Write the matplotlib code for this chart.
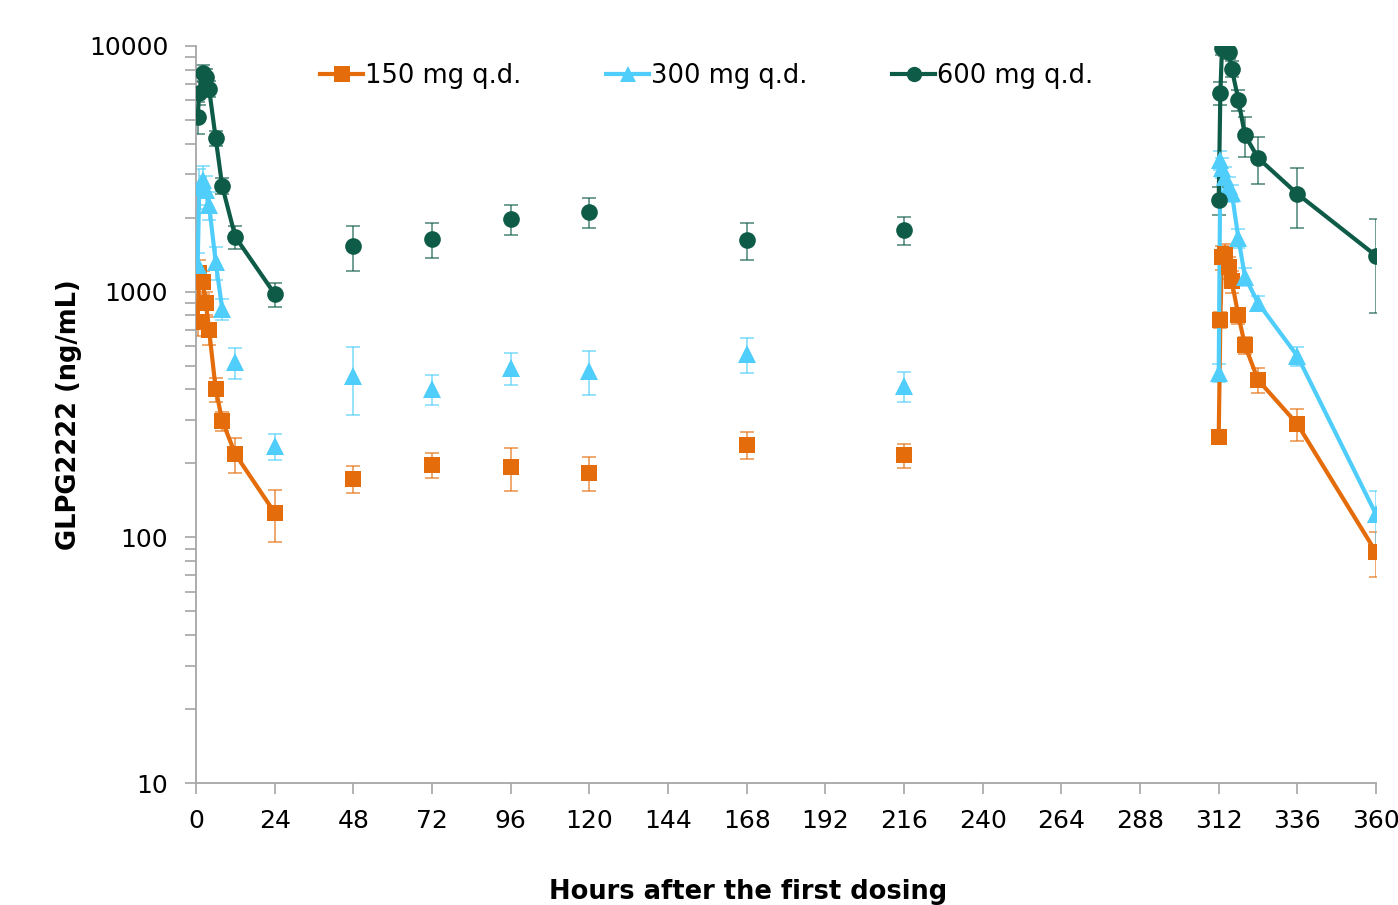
import matplotlib
matplotlib.use("Agg")
import matplotlib.pyplot as plt
from matplotlib.ticker import FixedLocator, FixedFormatter, LogLocator, NullFormatter

# ---- data ----
t_day1 = [0.5, 1, 2, 3, 4, 6, 8, 12, 24]
t_trough = [48, 72, 96, 120, 168, 216]
t_last = [312, 312.5, 313, 314, 315, 316, 318, 320, 324, 336, 360]

c150_day1 = [753, 1190, 1095, 900, 698, 402, 298, 218, 126]
sd150_day1 = [90, 150, 120, 100, 90, 45, 27, 35, 30]
c150_trough = [173, 197, 193, 183, 238, 216]
sd150_trough = [22, 23, 38, 29, 30, 24]
c150_last = [257, 770, 1380, 1420, 1260, 1100, 800, 605, 437, 289, 87]
sd150_last = [15, 60, 150, 150, 130, 110, 60, 50, 50, 43, 18]

c300_day1 = [1284, 2670, 2850, 2600, 2250, 1320, 850, 517, 235]
sd300_day1 = [150, 500, 400, 350, 300, 200, 80, 75, 28]
c300_trough = [454, 402, 489, 476, 558, 413]
sd300_trough = [140, 56, 74, 98, 90, 58]
c300_last = [467, 3440, 3190, 2930, 2690, 2520, 1650, 1150, 900, 547, 124]
sd300_last = [40, 300, 300, 280, 250, 200, 150, 100, 60, 50, 31]

c600_day1 = [5140, 6440, 7770, 7480, 6680, 4220, 2690, 1670, 979]
sd600_day1 = [760, 700, 600, 600, 500, 300, 200, 180, 110]
c600_trough = [1535, 1639, 1977, 2110, 1624, 1782]
sd600_trough = [316, 265, 277, 296, 280, 232]
c600_last = [2360, 6440, 9800, 9720, 9450, 8060, 6030, 4340, 3500, 2500, 1400]
sd600_last = [300, 700, 600, 600, 600, 600, 600, 800, 760, 690, 580]

# number of day-1 points joined by the line (300 mg line stops at 8 h)
n_connected_day1 = [9, 7, 9]

labels = ["150 mg q.d.", "300 mg q.d.", "600 mg q.d."]
colors = ["#E46C0A", "#4FCDFB", "#0E5B47"]
markers = ["s", "^", "o"]
msizes = [12, 13, 12]

x_ticks = list(range(0, 361, 24))
y_ticks = [10, 100, 1000, 10000]
y_ticklabels = ["10", "100", "1000", "10000"]

series = [
    (c150_day1, sd150_day1, c150_trough, sd150_trough, c150_last, sd150_last),
    (c300_day1, sd300_day1, c300_trough, sd300_trough, c300_last, sd300_last),
    (c600_day1, sd600_day1, c600_trough, sd600_trough, c600_last, sd600_last),
]

plt.rcParams['font.family'] = ['DejaVu Sans']
fig = plt.figure(figsize=(13.98, 9.05), dpi=100)
ax = fig.add_axes([0.1402, 0.1348, 0.8441, 0.8144])

handles = []
for (d1, s1, tr, st, la, sl), lab, col, mk, ms, nc in zip(series, labels, colors, markers, msizes, n_connected_day1):
    for tt, yy, ss in [(t_day1, d1, s1), (t_trough, tr, st), (t_last, la, sl)]:
        ax.errorbar(tt, yy, yerr=ss, fmt='none', ecolor=col, elinewidth=1.1,
                    capsize=5, capthick=1.1, alpha=0.75, zorder=2)
        ax.plot(tt, yy, linestyle='none', color=col, marker=mk,
                markersize=ms, markeredgewidth=0, zorder=4)
    ax.plot(t_day1[:nc], d1[:nc], '-', color=col, lw=3, zorder=3)
    ax.plot(t_last, la, '-', color=col, lw=3, zorder=3)
    handles.append(ax.plot([], [], linestyle='-', color=col, lw=3, marker=mk,
                           markersize=ms - 1, markeredgewidth=0)[0])

ax.set_yscale('log')
ax.set_xlim(0, 360)
ax.set_ylim(10, 10000)
ax.xaxis.set_major_locator(FixedLocator(x_ticks))
ax.yaxis.set_major_locator(FixedLocator(y_ticks))
ax.yaxis.set_major_formatter(FixedFormatter(y_ticklabels))
ax.yaxis.set_minor_locator(LogLocator(base=10, subs=range(2, 10)))
ax.yaxis.set_minor_formatter(NullFormatter())

for s in ['top', 'right']:
    ax.spines[s].set_visible(False)
for s in ['left', 'bottom']:
    ax.spines[s].set_color('#A6A6A6')
    ax.spines[s].set_linewidth(1.3)
ax.tick_params(axis='both', which='both', color='#A6A6A6', width=1.2, length=8,
               labelsize=18, direction='out')
ax.tick_params(axis='x', pad=11)
ax.tick_params(axis='y', pad=12)

ax.set_ylabel("GLPG2222 (ng/mL)", fontsize=18.5, fontweight='bold')
ax.yaxis.set_label_coords(-0.097, 0.5)
ax.set_xlabel("Hours after the first dosing", fontsize=18.5, fontweight='bold')
ax.xaxis.set_label_coords(0.468, -0.130)

ax.legend(handles, labels, loc='center', bbox_to_anchor=(0.433, 0.959), ncol=3,
          frameon=False, fontsize=18.5, handlelength=1.65, handletextpad=0.1,
          columnspacing=3.3, borderaxespad=0)

fig.savefig("out.png", dpi=100)
